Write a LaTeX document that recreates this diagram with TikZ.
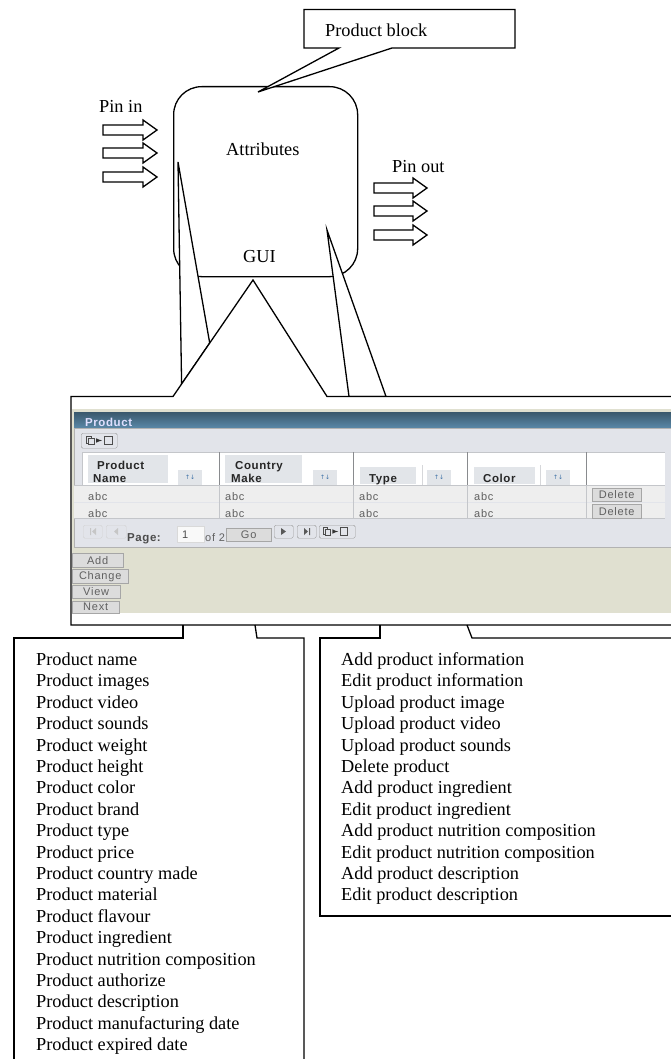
\documentclass[tikz,border=0pt]{standalone}
\usepackage{fontspec}
\setmainfont{Liberation Serif}
\newfontfamily\guifont[LetterSpace=7]{Liberation Sans}
\newfontfamily\guibold[LetterSpace=5]{Liberation Sans Bold}
\newfontfamily\symfont{DejaVu Sans}
\definecolor{guibg}{HTML}{E0E0D0}
\definecolor{panelbg}{HTML}{E2E4EA}
\definecolor{bartop}{HTML}{3A586C}
\definecolor{barbot}{HTML}{5A88A8}
\definecolor{rowbg}{HTML}{EEEEEE}
\definecolor{headbg}{HTML}{E2E5E9}
\definecolor{rulegr}{HTML}{C4C6CA}
\definecolor{btnbg}{HTML}{DCDCDC}
\definecolor{guitext}{HTML}{606060}
\definecolor{sortblue}{HTML}{3A6EA5}
\tikzset{
 outline/.style={draw=black,line width=1.3pt,line join=miter},
 label/.style={font=\fontsize{18.3}{20}\selectfont,inner sep=0pt,anchor=base west},
 pinarrow/.style={draw=black,line width=1.3pt,fill=white},
 listtext/.style={font=\fontsize{18.3}{21.4}\selectfont,inner sep=0pt,anchor=north west,align=left},
 gbtn/.style={draw=gray!70,fill=btnbg,inner sep=0pt,font=\guifont\fontsize{11}{11}\selectfont,text=guitext,anchor=north west,align=center},
 gicon/.style={gbtn,draw=gray!80,fill=panelbg,rounded corners=1.5pt},
 goff/.style={gbtn,draw=gray!35,fill=panelbg,rounded corners=1.5pt},
 ghead/.style={fill=headbg,inner sep=0pt,anchor=north west},
 gheadtxt/.style={font=\guibold\fontsize{11.5}{12}\selectfont,inner sep=0pt,anchor=base west,align=left,text=black!85},
 gcell/.style={font=\guifont\fontsize{11}{10}\selectfont,inner sep=0pt,anchor=base west,text=guitext},
 gsort/.style={fill=headbg,inner sep=0pt,anchor=north west,minimum width=24pt,minimum height=15pt,text=sortblue,font=\symfont\fontsize{6}{6}\selectfont},
 copyicon/.pic={
  \draw[black!70,line width=.6pt] (0,-4) rectangle (5,3);
  \draw[black!70,line width=.6pt,fill=panelbg] (2.5,-2) rectangle (8,4);
  \draw[black!80,line width=1pt,-{latex}] (10,0) -- (16,0);
  \draw[black!70,line width=.6pt] (18,-4) rectangle (26,4);
 },
}
\begin{document}
\begin{tikzpicture}[x=1pt,y=-1pt]
\useasboundingbox (0,0) rectangle (671,1059);
% product body
\node[outline,minimum width=184pt,minimum height=190pt,rounded corners=28pt,inner sep=0pt,anchor=north west] (body) at (173,86) {};
% wedges from the body down to the screenshot
\coordinate (lt) at (178,162); \coordinate (lb1) at (209.7,343); \coordinate (lb2) at (181.6,384);
\coordinate (rt) at (327,230); \coordinate (rb1) at (349,396.5); \coordinate (rb2) at (386,396.5);
\draw[outline,fill=white] (lt) -- (lb1) -- (lb2) -- cycle;
\draw[outline,fill=white] (rt) -- (rb1) -- (rb2) -- cycle;
% callout
\draw[outline,fill=white] (304,9.5) -- (515,9.5) -- (515,48) -- (392,48) -- (258,92) -- (339,48) -- (304,48) -- cycle;
\node[label] (pb) at (325,36.5) {Product block};
\node[label] (pi) at (99,112.5) {Pin in};
\node[label] (attr) at (226,155.5) {Attributes};
\node[label] (po) at (392,172.5) {Pin out};
\node[label] (gui) at (243,262.5) {GUI};
\foreach \y in {130,153,177}{
 \draw[pinarrow] (103,\y-5) -- (143,\y-5) -- (143,\y-10) -- (157,\y) -- (143,\y+10) -- (143,\y+5) -- (103,\y+5) -- cycle;}
\foreach \y in {188,211,235}{
 \draw[pinarrow] (374,\y-5) -- (413,\y-5) -- (413,\y-10) -- (427,\y) -- (413,\y+10) -- (413,\y+5) -- (374,\y+5) -- cycle;}
% gui panel callout
\draw[outline,fill=white] (672,396.5) -- (327,396.5) -- (253,280) -- (173,396.5) -- (71,396.5) -- (71,625) -- (672,625);
% screenshot
\fill[guibg] (72,409) rectangle (671,613);
\shade[top color=bartop,bottom color=barbot] (74,412) rectangle (671,428);
\node[font=\guibold\fontsize{11.5}{10}\selectfont,text=white!88!blue,inner sep=0pt,anchor=base west] (title) at (85,426) {Product};
\fill[panelbg,draw=gray!60] (74,428) rectangle (672,547);
\node[gicon,minimum width=36pt,minimum height=15pt] (copy1) at (81,433) {};
\pic at (86,440.5) {copyicon};
\fill[white] (82,452) rectangle (665,485);
\fill[rowbg] (74,486) rectangle (665,518);
\draw[rulegr,line width=1pt] (82,452) -- (665,452);
\draw[rulegr,line width=1pt] (74,485) -- (665,485);
\draw[panelbg,line width=1pt] (74,502) -- (665,502);
\draw[rulegr,line width=.7pt] (74,518) -- (665,518);
\draw[rulegr,line width=1pt] (82,452) -- (82,485);
\foreach \x in {219,353,467,586}{\draw[rulegr!70!black,line width=1pt] (\x,452) -- (\x,485);\draw[rulegr,line width=.7pt] (\x,485) -- (\x,518);}
\foreach \x in {422,540}{\draw[rulegr!70,line width=.8pt] (\x,465) -- (\x,485);}
\node[ghead,minimum width=80pt,minimum height=28pt] (h1) at (88,455) {};
\node[ghead,minimum width=77pt,minimum height=28pt] (h2) at (225,455) {};
\node[ghead,minimum width=56pt,minimum height=17pt] (h3) at (360,467) {};
\node[ghead,minimum width=61pt,minimum height=17pt] (h4) at (474,467) {};
\foreach \n/\x in {a/178,b/313,c/427,d/546}{\node[gsort] (s\n) at (\x,469.5) {↑↓};}
\node[gheadtxt] (t1) at (97,469) {Product};
\node[gheadtxt] (t1b) at (93,482) {Name};
\node[gheadtxt] (t2) at (235,469) {Country};
\node[gheadtxt] (t2b) at (231,482) {Make};
\node[gheadtxt] (t3) at (369,482) {Type};
\node[gheadtxt] (t4) at (483,482) {Color};
\foreach \n/\x in {a/88,b/225,c/359,d/474}{
 \node[gcell] (ra\n) at (\x,500) {abc};
 \node[gcell] (rb\n) at (\x,517) {abc};}
\node[gbtn,minimum width=49pt,minimum height=13pt] (del1) at (592,488) {Delete};
\node[gbtn,minimum width=49pt,minimum height=14pt] (del2) at (592,504) {Delete};
\node[goff,minimum width=19pt,minimum height=13pt] (p1) at (83,525) {};
\node[goff,minimum width=20pt,minimum height=13pt] (p2) at (106,525) {};
\fill[gray!45] (90,528) rectangle (91,535) (96,528) -- (96,535) -- (92,531.5) -- cycle;
\fill[gray!45] (118,528) -- (118,535) -- (114,531.5) -- cycle;
\node[gheadtxt,text=black!70] (pg) at (127,541) {Page:};
\node[gbtn,fill=white!95!gray,draw=gray!30,minimum width=27pt,minimum height=16pt] (pbox) at (177,526) {};
\node[gcell,text=black!70] (pn) at (182,538) {1};
\node[gcell] (of) at (205,541) {of 2};
\node[gbtn,minimum width=45pt,minimum height=13pt] (go) at (226,528) {Go};
\node[gicon,minimum width=19pt,minimum height=13pt] (q1) at (274,525) {};
\node[gicon,minimum width=19pt,minimum height=13pt] (q2) at (297,525) {};
\fill[black!65] (281,528) -- (281,535) -- (286,531.5) -- cycle;
\fill[black!65] (304,528) -- (304,535) -- (308,531.5) -- cycle (309,528) rectangle (310,535);
\node[gicon,minimum width=36pt,minimum height=13pt] (copy2) at (319,525) {};
\pic[scale=.95] at (323,531.5) {copyicon};
\node[gbtn,minimum width=51pt,minimum height=14pt] (add) at (72,553) {Add};
\node[gbtn,minimum width=56pt,minimum height=14pt] (chg) at (72,569) {Change};
\node[gbtn,minimum width=48pt,minimum height=13pt] (view) at (72,585) {View};
\node[gbtn,minimum width=47pt,minimum height=12pt] (next) at (72,601) {Next};
% lists
\draw[outline] (183,625) -- (183,638) -- (14,638) -- (14,1060);
\draw[outline] (255,625) -- (257,638) -- (304,638) -- (304,1060);
\draw[outline] (380,625) -- (380,638) -- (320,638) -- (320,916) -- (672,916);
\draw[outline] (467,625) -- (472,638) -- (672,638);
\node[listtext] (left) at (36,652.5) {Product name\\Product images\\Product video\\Product sounds\\Product weight\\Product height\\Product color\\Product brand\\Product type\\Product price\\Product country made\\Product material\\Product flavour\\Product ingredient\\Product nutrition composition\\Product authorize\\Product description\\Product manufacturing date\\Product expired date};
\node[listtext] (right) at (341,652.5) {Add product information\\Edit product information\\Upload product image\\Upload product video\\Upload product sounds\\Delete product\\Add product ingredient\\Edit product ingredient\\Add product nutrition composition\\Edit product nutrition composition\\Add product description\\Edit product description};
\end{tikzpicture}
\end{document}
